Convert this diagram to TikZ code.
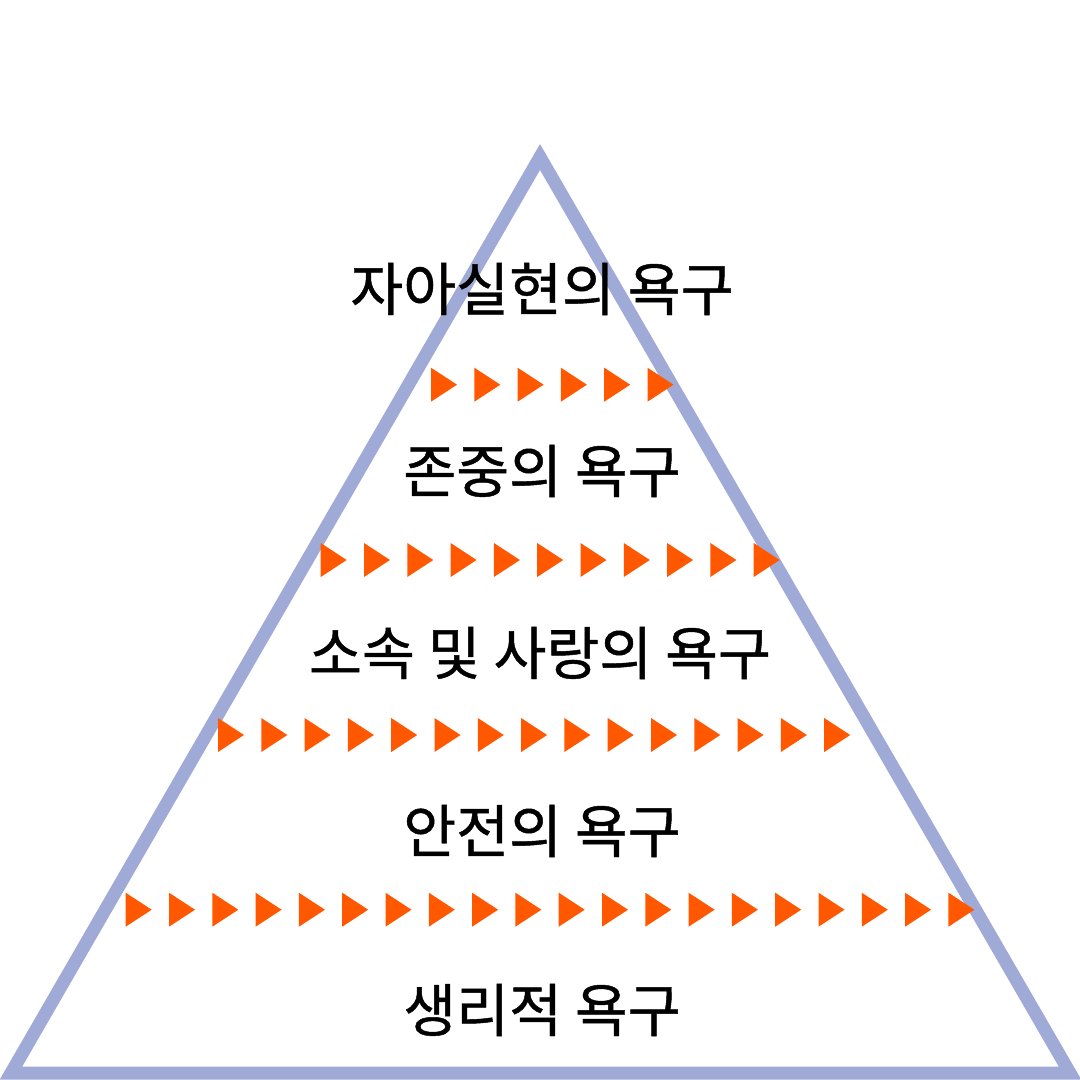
\documentclass[tikz,border=0pt]{standalone}
\usepackage{fontspec}
\newfontfamily\kr{Noto Sans CJK KR}[FakeBold=0.8]
\definecolor{tri}{RGB}{160,170,214}
\definecolor{arr}{RGB}{255,88,0}
\begin{document}
\begin{tikzpicture}[x=1pt,y=-1pt,
  label/.style={font=\kr\fontsize{57.5}{62}\selectfont, text=black, inner sep=0pt, anchor=center},
  marker/.style={fill=arr, draw=none}]
\useasboundingbox[fill=white] (0,0) rectangle (1080,1080);
\draw[tri, line width=13pt, line join=miter] (540,157) -- (1070,1073) -- (11,1073) -- cycle;
\foreach \yc/\xs/\n in {384.7/431/6, 560/320.7/11, 735/218/15, 909.7/125.7/20}{
  \foreach \i in {1,...,\n}{
    \pgfmathsetmacro{\xl}{\xs+(\i-1)*43.3}
    \fill[marker] (\xl,\yc-17) -- (\xl+26,\yc) -- (\xl,\yc+17) -- cycle;
  }
}
\node[label] (t1) at (542,289) {자아실현의 욕구};
\node[label] (t2) at (542,471) {존중의 욕구};
\node[label] (t3) at (540,653) {소속 및 사랑의 욕구};
\node[label] (t4) at (542,831) {안전의 욕구};
\node[label] (t5) at (542,1010) {생리적 욕구};
\end{tikzpicture}
\end{document}
